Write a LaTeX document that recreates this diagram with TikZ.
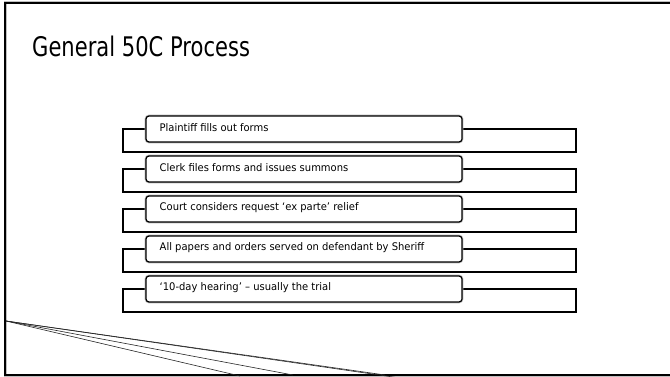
\documentclass[tikz,border=0pt]{standalone}
\usepackage{fontspec}
\setmainfont{DejaVu Sans}
\newfontfamily\titlefont[FakeStretch=0.78]{DejaVu Sans}
\newfontfamily\boxfont[FakeStretch=0.95]{DejaVu Sans}
\begin{document}
\begin{tikzpicture}[x=1pt,y=-1pt,
  edge/.style={line width=1.2pt, draw=black, preaction={draw=gray!55, line width=2.6pt}},
  backbox/.style={edge, rectangle, minimum width=453pt, minimum height=23pt, inner sep=0pt},
  frontbox/.style={edge, rectangle, rounded corners=3pt, fill=white, minimum width=316pt, minimum height=26pt, inner sep=0pt},
  boxtext/.style={anchor=west, inner sep=0pt, font=\boxfont\fontsize{10.5}{12}\selectfont},
  swoosh/.style={line width=0.6pt, draw=black!85},
  frame/.style={line width=2pt, draw=black, preaction={draw=gray!50, line width=3pt}}
]
\useasboundingbox (0,0) rectangle (670,377);
\fill[white] (0,0) rectangle (670,377);
% frame
\coordinate (ftr) at (670,3);
\coordinate (ftl) at (5,3);
\coordinate (fbl) at (5,375);
\coordinate (fbr) at (670,375);
\draw[frame] (ftr) -- (ftl) -- (fbl) -- (fbr);
% title
\node[anchor=base west, inner sep=0pt, font=\titlefont\fontsize{27}{32}\selectfont] (title) at (32,57) {General 50C Process};
% rows
\foreach \i/\t in {1/{Plaintiff fills out forms},
                   2/{Clerk files forms and issues summons},
                   3/{Court considers request ‘ex parte’ relief},
                   4/{All papers and orders served on defendant by Sheriff},
                   5/{‘10-day hearing’ – usually the trial}}{
  \node[backbox] (b\i) at (349.5, 140.5+40*\i-40) {};
  \node[frontbox] (f\i) at (304, 129+40*\i-40) {};
  \node[boxtext] (t\i) at (159.5, 127.5+40*\i-40) {\t};
}
% swoosh lines
\coordinate (s0) at (6,321);
\coordinate (sA) at (385,375);
\coordinate (sA2) at (400,378);
\coordinate (sB) at (293,375);
\coordinate (sC) at (240,376);
\draw[swoosh] (s0) -- (sA);
\draw[swoosh] (s0) -- (sA2);
\draw[swoosh] (s0) -- (sB);
\draw[swoosh] (s0) -- (sC);
\end{tikzpicture}
\end{document}
